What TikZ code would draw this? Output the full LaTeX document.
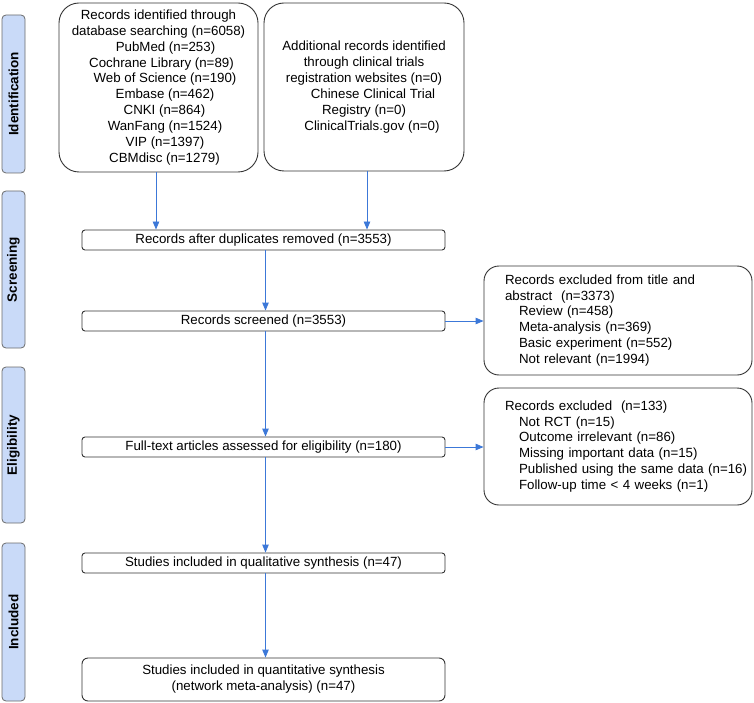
\documentclass[tikz,border=0pt]{standalone}
\usepackage{fontspec}
\setmainfont{Liberation Sans}
\usetikzlibrary{arrows.meta}
\definecolor{barfill}{HTML}{C9DAF8}
\definecolor{arr}{HTML}{3C78D8}
\definecolor{edge}{HTML}{333333}
\definecolor{baredge}{HTML}{6B6B6B}
\begin{document}
\begin{tikzpicture}[x=1pt,y=-1pt,
 every node/.style={font=\fontsize{13.3}{15.9}\selectfont, text=black},
 bigbox/.style={draw=edge, line width=0.9pt, rounded corners=20pt, align=center, inner sep=0pt},
 flowbox/.style={draw=edge, line width=0.9pt, rounded corners=3pt, minimum width=363pt, minimum height=20pt, inner sep=0pt, align=center},
 sidebox/.style={draw=edge, line width=0.9pt, rounded corners=15pt, minimum width=268pt, text width=226pt, inner xsep=21pt, inner ysep=0pt, align=left},
 phase/.style={draw=baredge, line width=0.8pt, fill=barfill, rounded corners=4pt, minimum height=23pt, inner sep=0pt, rotate=90, font=\bfseries\fontsize{13.5}{16}\selectfont},
 flow/.style={draw=arr, line width=0.9pt, -{Triangle[length=8pt,width=6.5pt]}}]
\useasboundingbox (0,0) rectangle (754,703);

% phase bars
\node[phase, minimum width=158pt] (pid) at (13.5,94) {Identification};
\node[phase, minimum width=157pt] (psc) at (13.5,269.5) {Screening};
\node[phase, minimum width=156pt] (pel) at (13.5,445) {Eligibility};
\node[phase, minimum width=158pt] (pin) at (13.5,622) {Included};

% top boxes
\node[bigbox, minimum width=199pt, minimum height=169pt] (b1) at (158.5,87.5) {Records identified through\\
database searching (n=6058)\\
\hspace*{14pt}PubMed (n=253)\\
\hspace*{6pt}Cochrane Library (n=89)\\
\hspace*{13pt}Web of Science (n=190)\\
\hspace*{13pt}Embase (n=462)\\
\hspace*{12pt}CNKI (n=864)\\
\hspace*{13pt}WanFang (n=1524)\\
\hspace*{13pt}VIP (n=1397)\\
\hspace*{12pt}CBMdisc (n=1279)};
\node[bigbox, minimum width=200pt, minimum height=168pt] (b2) at (364,87) {Additional records identified\\
through clinical trials\\
registration websites (n=0)\\
\hspace*{18pt}Chinese Clinical Trial\\
Registry (n=0)\hspace*{8pt}\\
\hspace*{16pt}ClinicalTrials.gov (n=0)};

% main flow
\node[flowbox] (dup) at (263.5,240) {Records after duplicates removed (n=3553)};
\node[flowbox] (scr) at (263.5,321) {Records screened (n=3553)};
\node[flowbox] (ful) at (263.5,447) {Full-text articles assessed for eligibility (n=180)};
\node[flowbox] (qual) at (263.5,563) {Studies included in qualitative synthesis (n=47)};
\node[flowbox, minimum height=43pt, rounded corners=6pt] (quan) at (263.5,679.5) {Studies included in quantitative synthesis\\(network meta-analysis) (n=47)};

% side boxes
\node[sidebox, minimum height=109pt] (ex1) at (618,320.5) {Records excluded from title and\\
abstract\ \ (n=3373)\\
\hspace*{14pt}Review (n=458)\\
\hspace*{14pt}Meta-analysis (n=369)\\
\hspace*{14pt}Basic experiment (n=552)\\
\hspace*{14pt}Not relevant (n=1994)};
\node[sidebox, minimum height=117pt] (ex2) at (618,446.5) {Records excluded\ \ (n=133)\\
\hspace*{14pt}Not RCT (n=15)\\
\hspace*{14pt}Outcome irrelevant (n=86)\\
\hspace*{14pt}Missing important data (n=15)\\
\mbox{\hspace*{14pt}Published using the same data (n=16)}\\
\hspace*{14pt}Follow-up time {<} 4 weeks (n=1)};

% connectors
\path ([xshift=-2.5pt]b1.south) coordinate (b1s);
\path ([xshift=3pt]b2.south) coordinate (b2s);
\draw[flow] (b1s) -- (b1s |- dup.north);
\draw[flow] (b2s) -- (b2s |- dup.north);
\path ([xshift=2pt]dup.south) coordinate (d1);
\path ([xshift=2pt]scr.south) coordinate (s1);
\path ([xshift=2pt]ful.south) coordinate (f1);
\path ([xshift=2pt]qual.south) coordinate (q1);
\draw[flow] (d1) -- (d1 |- scr.north);
\draw[flow] (s1) -- (s1 |- ful.north);
\draw[flow] (f1) -- (f1 |- qual.north);
\draw[flow] (q1) -- (q1 |- quan.north);
\draw[flow] (scr.east) -- (scr.east -| ex1.west);
\draw[flow] (ful.east) -- (ful.east -| ex2.west);
\end{tikzpicture}
\end{document}
